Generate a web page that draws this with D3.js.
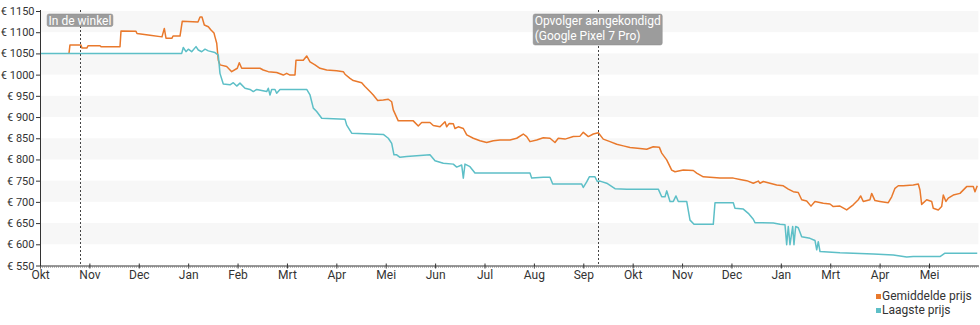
<!DOCTYPE html>
<html>
<head>
<meta charset="utf-8">
<script src="https://cdn.jsdelivr.net/npm/d3@7"></script>
<style>
  html, body { margin: 0; padding: 0; background: #fff; }
  svg { display: block; font-family: Roboto, "Noto Sans", sans-serif; }
</style>
</head>
<body>
<svg id="chart" width="980" height="325"></svg>
<script>
// Month index (0 = Okt 2021) -> tick labels
const monthLabels = ["Okt","Nov","Dec","Jan","Feb","Mrt","Apr","Mei","Jun","Jul","Aug","Sep","Okt","Nov","Dec","Jan","Mrt","Apr","Mei"];
const priceTicks = [550,600,650,700,750,800,850,900,950,1000,1050,1100,1150];
const seriesNames = ["Gemiddelde prijs","Laagste prijs"];
const seriesColors = ["#e9792c","#5dbfc7"];

// [month index, price in €]
const gemiddeldePrijs = [
 [0.587,1050],[0.607,1070],[0.830,1070],[0.850,1063],[0.952,1063],[0.972,1068],[1.215,1068],[1.235,1066],[1.620,1066],
 [1.640,1103],[1.944,1102],[1.964,1097],[2.227,1093],[2.470,1089],[2.517,1109],[2.551,1086],[2.673,1086],[2.693,1091],
 [2.835,1091],[2.881,1126],[3.199,1124],[3.240,1136],[3.280,1136],[3.327,1117],[3.408,1113],[3.462,1105],[3.523,1098],
 [3.543,1089],[3.578,1074],[3.610,1034],[3.644,1023],[3.780,1019],[3.881,1007],[3.995,1015],[4.035,1028],[4.084,1015],
 [4.454,1015],[4.521,1011],[4.622,1007],[4.792,1005],[4.926,999],[4.995,1003],[5.062,999],[5.163,999],[5.183,1034],
 [5.331,1034],[5.400,1044],[5.467,1030],[5.568,1023],[5.669,1015],[5.805,1011],[6.007,1009],[6.141,1007],[6.175,1001],
 [6.277,991],[6.343,986],[6.513,981],[6.580,972],[6.681,960],[6.748,952],[6.837,939],[6.951,940],[7.052,942],[7.121,936],
 [7.153,917],[7.254,891],[7.558,891],[7.659,879],[7.728,887],[7.896,887],[7.963,880],[8.099,877],[8.200,889],[8.234,877],
 [8.287,885],[8.368,884],[8.402,873],[8.469,877],[8.571,873],[8.640,858],[8.773,850],[8.909,844],[9.044,840],[9.178,844],
 [9.314,846],[9.516,846],[9.652,850],[9.785,860],[9.854,854],[9.921,842],[10.057,846],[10.190,851],[10.326,850],[10.427,840],
 [10.494,850],[10.630,848],[10.798,854],[10.934,855],[11.000,864],[11.102,854],[11.203,860],[11.304,863],[11.405,848],
 [11.541,842],[11.677,836],[11.810,832],[11.946,828],[12.148,826],[12.284,824],[12.417,830],[12.539,829],[12.588,815],
 [12.689,799],[12.790,775],[12.857,771],[13.025,775],[13.228,774],[13.296,768],[13.430,759],[13.565,758],[13.768,756],
 [14.037,756],[14.173,753],[14.308,750],[14.442,744],[14.543,749],[14.578,744],[14.645,748],[14.780,744],[14.916,740],
 [15.050,738],[15.151,730],[15.252,724],[15.353,722],[15.422,705],[15.523,702],[15.610,690],[15.691,701],[15.859,697],
 [15.995,695],[16.062,689],[16.197,690],[16.333,681],[16.466,693],[16.568,705],[16.616,714],[16.669,701],[16.804,705],
 [16.839,720],[16.906,703],[17.007,701],[17.175,698],[17.244,712],[17.311,732],[17.378,738],[17.479,738],[17.681,740],
 [17.783,742],[17.817,728],[17.851,694],[17.953,705],[18.054,701],[18.086,685],[18.188,681],[18.256,689],[18.289,716],
 [18.343,701],[18.390,709],[18.491,716],[18.627,720],[18.762,736],[18.896,736],[18.931,724],[18.977,738]
];

const laagstePrijs = [
 [0,1050],[2.869,1050],[2.901,1064],[2.956,1054],[3.003,1060],[3.071,1054],[3.159,1066],[3.205,1058],[3.274,1054],
 [3.341,1060],[3.408,1056],[3.543,1052],[3.610,1046],[3.644,1003],[3.711,978],[3.847,976],[3.914,981],[3.983,973],
 [4.049,980],[4.151,968],[4.252,965],[4.319,960],[4.388,965],[4.590,960],[4.622,968],[4.657,952],[4.691,965],[4.758,965],
 [4.792,956],[4.859,965],[5.400,965],[5.467,952],[5.534,921],[5.602,913],[5.704,897],[6.175,895],[6.210,881],[6.311,862],
 [6.951,859],[7.052,850],[7.121,838],[7.167,811],[7.222,811],[7.289,805],[7.424,807],[7.627,809],[7.896,811],[7.998,797],
 [8.166,791],[8.368,789],[8.437,782],[8.538,787],[8.571,756],[8.605,789],[8.706,783],[8.807,768],[9.921,768],[9.955,756],
 [10.190,758],[10.326,758],[10.381,742],[10.968,742],[11.000,734],[11.069,747],[11.122,759],[11.237,759],[11.284,748],
 [11.338,749],[11.474,744],[11.642,731],[11.879,730],[12.519,730],[12.588,712],[12.655,712],[12.689,726],[12.756,701],
 [12.823,701],[12.877,714],[12.924,701],[13.094,701],[13.161,657],[13.242,647],[13.632,647],[13.667,698],[14.037,698],
 [14.071,685],[14.240,683],[14.341,673],[14.442,659],[14.476,651],[14.847,650],[14.983,647],[15.084,646],[15.118,599],
 [15.151,642],[15.185,599],[15.240,642],[15.266,599],[15.300,642],[15.353,639],[15.422,618],[15.590,614],[15.691,609],
 [15.726,587],[15.758,606],[15.793,583],[16.197,580],[16.872,577],[17.277,575],[17.548,570],[17.681,571],[18.222,571],
 [18.323,579],[18.977,579]
];

// annotations: [month index, label lines]
const eventMonths = [0.810, 11.292];
const eventLabels = [["In de winkel"], ["Opvolger aangekondigd", "(Google Pixel 7 Pro)"]];

(function () {
const svg = d3.select("#chart");
const plotLeft = 40, plotRight = 978.4, plotTop = 11, plotBottom = 265.5;

const x = d3.scaleLinear().domain([0, 19]).range([plotLeft, plotRight]);
const y = d3.scaleLinear().domain([550, 1150]).range([plotBottom, plotTop]);

// background bands
const bandStarts = priceTicks.filter((d, i) => i < priceTicks.length - 1 && i % 2 === 1);
svg.append("g").selectAll("rect").data(bandStarts).join("rect")
  .attr("x", plotLeft).attr("width", plotRight - plotLeft)
  .attr("y", d => y(d + 50)).attr("height", d => y(d) - y(d + 50))
  .attr("fill", "#f7f7f7");

// lines
const line = d3.line().x(d => x(d[0])).y(d => y(d[1]));
[gemiddeldePrijs, laagstePrijs].forEach((s, i) => {
  svg.append("path").datum(s)
    .attr("fill", "none").attr("stroke", seriesColors[i])
    .attr("stroke-width", 1.5).attr("stroke-linejoin", "round")
    .attr("d", line);
});

// event lines
eventMonths.forEach(m => {
  svg.append("line")
    .attr("x1", Math.round(x(m)) + 0.5).attr("x2", Math.round(x(m)) + 0.5)
    .attr("y1", plotTop - 1).attr("y2", plotBottom)
    .attr("stroke", "#444").attr("stroke-width", 1).attr("stroke-dasharray", "2,2");
});

// axes
const yAxis = svg.append("g").attr("transform", `translate(${plotLeft},0)`)
  .call(d3.axisLeft(y).tickValues(priceTicks).tickSize(4).tickSizeOuter(0).tickPadding(1.5)
    .tickFormat(d => "€ " + d));
yAxis.selectAll("text").attr("font-size", 11).attr("fill", "#333").attr("font-family", "Roboto");
yAxis.selectAll("line, path").attr("stroke", "#333");
yAxis.select("path").attr("d", `M0.5,${plotTop - 1}V${plotBottom}`);

const xAxis = svg.append("g").attr("transform", `translate(0,${plotBottom})`)
  .call(d3.axisBottom(x).tickValues(d3.range(monthLabels.length)).tickSize(3).tickSizeOuter(0).tickPadding(2)
    .tickFormat(i => monthLabels[i]));
xAxis.selectAll("text").attr("font-size", 12).attr("fill", "#333").attr("font-family", "Roboto");
xAxis.selectAll("line, path").attr("stroke", "#333");
xAxis.selectAll(".tick line").attr("y1", -2);

// fine dotted day marks under the axis
svg.append("line").attr("x1", plotLeft).attr("x2", plotRight)
  .attr("y1", plotBottom + 1.5).attr("y2", plotBottom + 1.5)
  .attr("stroke", "#777").attr("stroke-width", 1).attr("stroke-dasharray", "1,1");

// event labels
eventMonths.forEach((m, i) => {
  const g = svg.append("g");
  const lines = eventLabels[i];
  const t = g.append("text").attr("font-size", 12).attr("fill", "#fff").attr("font-family", "Roboto");
  lines.forEach((l, j) => {
    t.append("tspan").attr("x", 0).attr("y", 24.5 + j * 15.5).text(l);
  });
  const bb = t.node().getBBox();
  const w = bb.width + 3;
  const cx = x(m);
  t.attr("transform", `translate(${cx - bb.width / 2},0)`);
  g.insert("rect", "text")
    .attr("x", cx - w / 2).attr("y", 14)
    .attr("width", w).attr("height", lines.length === 1 ? 12.5 : 31)
    .attr("rx", 2).attr("fill", "#9c9c9c").attr("stroke", "#8a8a8a").attr("stroke-width", 0.5);
});

// legend
const lg = svg.append("g").attr("transform", "translate(876,0)");
seriesNames.forEach((n, i) => {
  lg.append("rect").attr("x", 0).attr("y", 294 + i * 14).attr("width", 5).attr("height", 5).attr("fill", seriesColors[i]);
  lg.append("text").attr("x", 6).attr("y", 300 + i * 14).attr("font-size", 12).attr("fill", "#333")
    .attr("font-family", "Roboto").text(n);
});
})();
</script>
</body>
</html>
